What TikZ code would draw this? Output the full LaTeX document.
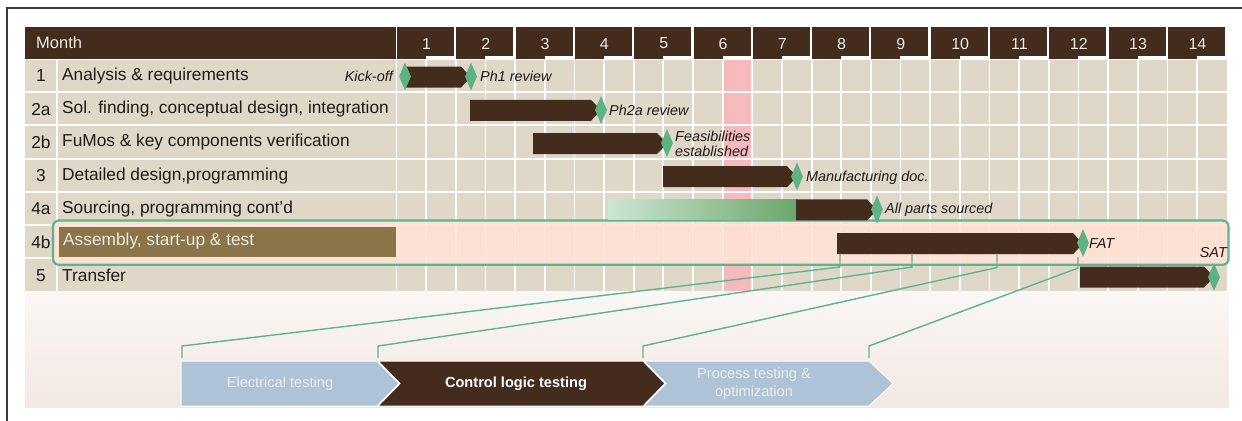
\documentclass[tikz,border=0pt]{standalone}
\usepackage{fontspec}
\setmainfont{Liberation Sans}
\usetikzlibrary{shapes.geometric}
\definecolor{dbrown}{HTML}{432B1D}
\definecolor{beige}{HTML}{DFD8C8}
\definecolor{olive}{HTML}{8B7548}
\definecolor{peach}{HTML}{FFE2D5}
\definecolor{pinkcol}{HTML}{F5B9BE}
\definecolor{mgreen}{HTML}{5FB283}
\definecolor{lgreen}{HTML}{5DB590}
\definecolor{lblue}{HTML}{AEC3D6}
\definecolor{gstart}{HTML}{CDE6D2}
\definecolor{gend}{HTML}{6CA76B}
\definecolor{txt}{HTML}{1E1A18}
\definecolor{headtxt}{HTML}{EFEAE2}
\definecolor{chevtxt}{HTML}{E9EEF3}
\definecolor{framec}{HTML}{3A3A3A}
\definecolor{bgtop}{HTML}{FAF7F4}
\definecolor{bgbot}{HTML}{F3E8E3}
\newcommand\gbar[3]{\fill[dbrown] (#1,#3-10.5) -- (#2-10,#3-10.5) -- (#2,#3) -- (#2-10,#3+10.5) -- (#1,#3+10.5) -- cycle;}
\begin{document}
\begin{tikzpicture}[x=1bp,y=-1bp,
  lbl/.style={anchor=west, inner sep=0, font=\fontsize{17.3bp}{18bp}\selectfont, text=txt},
  num/.style={anchor=center, inner sep=0, font=\fontsize{17.3bp}{18bp}\selectfont, text=txt},
  ms/.style={inner sep=0, font=\fontsize{14.4bp}{15.5bp}\selectfont\itshape, text=txt},
  mhead/.style={inner sep=0, text=headtxt, font=\fontsize{16bp}{16bp}\selectfont},
  diam/.style={diamond, fill=mgreen, minimum width=12bp, minimum height=28bp, inner sep=0},
  link/.style={draw=lgreen, line width=1.4bp},
  chevlight/.style={fill=lblue, draw=white, line width=1bp},
  chevdark/.style={fill=dbrown, draw=white, line width=1bp},
  chevt/.style={inner sep=0, font=\fontsize{14.6bp}{18bp}\selectfont, text=chevtxt, align=center}]
\useasboundingbox (0,0) rectangle (1242,420);
% frame
\draw[framec, line width=1.5bp] (7,421) -- (7,8) -- (1243,8);
% bottom background
\shade[top color=bgtop, bottom color=bgbot] (25,292) rectangle (1229,407);
% header
\fill[dbrown] (25,27) rectangle (396,58.5);
\node[mhead, anchor=west, font=\fontsize{16.5bp}{17bp}\selectfont] (hmonth) at (36,43) {Month};
\foreach \k in {1,...,14}{
  \pgfmathsetmacro\xa{397+59.3*(\k-1)}
  \fill[dbrown] (\xa,27) rectangle (\xa+57,55.5);
  \fill[dbrown] (\xa,55) rectangle (\xa+29,58.5);
  \node[mhead] (h\k) at (\xa+29.5,43.5) {\k};
}
% grid
\fill[beige] (25,59.5) rectangle (1227,291.4);
\fill[pinkcol] (723.5,59.5) rectangle (752.5,291.4);
\foreach \r in {1,...,6}{
  \draw[white, line width=2bp] (25,59+33.2*\r) -- (1227,59+33.2*\r);
}
\draw[white, line width=2bp] (57,59.5) -- (57,291.4);
\foreach \j in {0,...,27}{
  \draw[white, line width=1.8bp] (396.5+29.65*\j,59.5) -- (396.5+29.65*\j,291.4);
}
% row 4b highlight
\fill[peach, opacity=0.88, rounded corners=6bp] (53,221) rectangle (1228,264.5);
\draw[lgreen, line width=2.2bp, rounded corners=6bp] (53,220.5) rectangle (1228.5,264.8);
\fill[olive] (59,226.5) rectangle (396,256.5);
% row labels
\foreach \n/\t [count=\i from 0] in {1/Analysis \& requirements, 2a/Sol. finding{,} conceptual design{,} integration, 2b/FuMos \& key components verification, 3/Detailed design{,}programming, 4a/Sourcing{,} programming cont'd, 4b/, 5/Transfer}{
  \node[num] (n\i) at (41,76+33.2*\i) {\n};
  \node[lbl] (l\i) at (62,76+33.2*\i) {\t};
}
\node[lbl, text=headtxt] (l5b) at (63,241.5) {Assembly, start-up \& test};
% 4a gradient
\shade[left color=gstart, right color=gend] (608,199.4) rectangle (797,219.5);
% bars
\gbar{405}{471}{77.1}
\gbar{470}{601}{110.3}
\gbar{533}{667}{143.5}
\gbar{663}{797}{176.7}
\gbar{796}{877}{209.9}
\gbar{837}{1083}{243.6}
\gbar{1080}{1214}{277}
% milestones
\node[diam] (d1) at (405,76.5) {};
\node[diam] (d2) at (471,76.5) {};
\node[diam] (d3) at (601,110) {};
\node[diam] (d4) at (667,143) {};
\node[diam] (d5) at (797,176.5) {};
\node[diam] (d6) at (877,209.5) {};
\node[diam] (d7) at (1083,243) {};
\node[diam] (d8) at (1214,277) {};
\node[ms, anchor=east] (m1) at (393,76) {Kick-off};
\node[ms, anchor=west] (m2) at (480,76) {Ph1 review};
\node[ms, anchor=west] (m3) at (609,110) {Ph2a review};
\node[ms, anchor=west, align=left] (m4) at (675,144) {Feasibilities\\established};
\node[ms, anchor=west] (m5) at (806,178) {Manufacturing doc.};
\node[ms, anchor=west] (m6) at (885,210) {All parts sourced};
\node[ms, anchor=west] (m7) at (1089,244) {FAT};
\node[ms, anchor=east] (m8) at (1227,253) {SAT};
% chevrons
\path[chevlight] (181,361) -- (377,361) -- (399,383.5) -- (377,406) -- (181,406) -- cycle;
\path[chevdark] (378,361) -- (643,361) -- (665,383.5) -- (643,406) -- (378,406) -- (400,383.5) -- cycle;
\path[chevlight] (644,361) -- (869,361) -- (893,383.5) -- (869,406) -- (644,406) -- (666,383.5) -- cycle;
\node[chevt] (c1) at (280,384) {Electrical testing};
\node[chevt, text=white, font=\fontsize{14.6bp}{18bp}\selectfont\bfseries] (c2) at (516,384) {Control logic testing};
\node[chevt] (c3) at (754,384) {Process testing \&\\optimization};
% connectors
\coordinate (s1) at (840,253.5); \coordinate (e1) at (182,358);
\coordinate (s2) at (912,253.5); \coordinate (e2) at (378,358);
\coordinate (s3) at (997,253.5); \coordinate (e3) at (643,358);
\coordinate (s4) at (1078,257);  \coordinate (e4) at (869,358);
\draw[link] (s1) -- ++(0,13.5) -- (182,346) -- (e1);
\draw[link] (s2) -- ++(0,13.5) -- (378,346) -- (e2);
\draw[link] (s3) -- ++(0,14) -- (643,346) -- (e3);
\draw[link] (s4) -- ++(0,11) -- (869,346) -- (e4);
\end{tikzpicture}
\end{document}
